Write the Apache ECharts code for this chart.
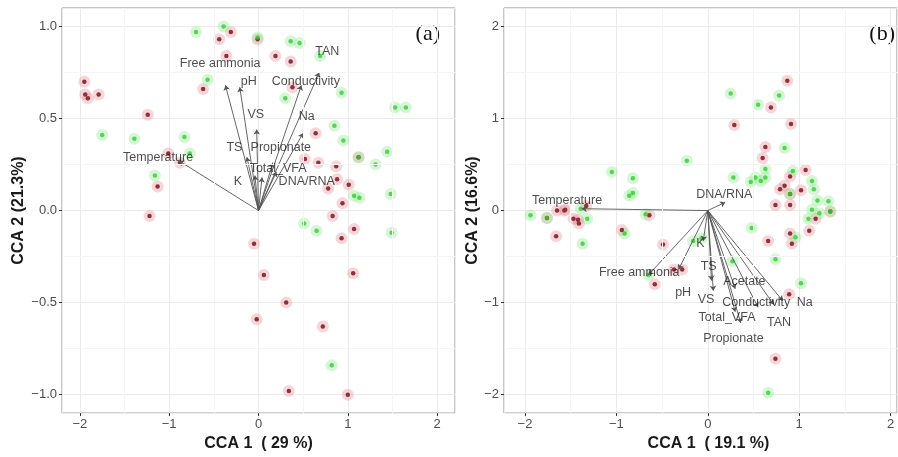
<!DOCTYPE html>
<html lang="en">
<head>
    <meta charset="UTF-8">
    <title>CCA biplots</title>
    <style>
        body { margin: 0; background: #fff; }
        #chart { width: 898px; height: 457px; }
    </style>
</head>
<body>
    <div id="chart"></div>
    <script src="https://cdn.jsdelivr.net/npm/echarts@6/dist/echarts.min.js"></script>
    <script>
        // panel (a) samples
        const aRed = [
            [-0.44, 0.93], [-0.31, 0.97], [-0.01, 0.93], [-0.36, 0.84], [0.19, 0.84], [0.36, 0.81],
            [-1.95, 0.70], [-1.94, 0.63], [-1.91, 0.61], [-1.79, 0.63], [-0.62, 0.66], [0.38, 0.67],
            [-1.24, 0.52], [-1.01, 0.31], [-0.88, 0.26], [-1.13, 0.13], [-1.22, -0.03],
            [0.64, 0.42], [1.12, 0.29], [0.52, 0.28], [0.67, 0.26], [0.87, 0.24], [0.88, 0.17],
            [0.78, 0.12], [1.01, 0.14], [0.94, 0.04], [0.83, -0.03],
            [1.07, -0.10], [0.93, -0.15], [-0.05, -0.18], [0.06, -0.35], [1.06, -0.34],
            [0.31, -0.50], [-0.02, -0.59], [0.72, -0.63], [0.34, -0.98], [1.00, -1.00]
        ];
        const aGreen = [
            [-0.70, 0.97], [-0.39, 1.00], [-0.01, 0.94], [0.36, 0.92], [0.46, 0.91], [0.69, 0.84],
            [-0.57, 0.71], [0.30, 0.61], [0.93, 0.64], [1.53, 0.56], [1.65, 0.56],
            [-1.75, 0.41], [-1.39, 0.39], [-0.83, 0.40], [-0.77, 0.31], [-1.16, 0.19],
            [0.85, 0.46], [0.95, 0.38], [1.44, 0.32], [1.12, 0.29], [1.31, 0.25],
            [1.07, 0.08], [1.13, 0.07], [1.48, 0.09],
            [0.51, -0.07], [0.65, -0.11], [1.49, -0.12], [0.82, -0.84]
        ];
        const aVars = ['Temperature', 'Free ammonia', 'pH', 'VS', 'TS', 'Propionate',
            'Total_VFA', 'K', 'DNA/RNA', 'Na', 'Conductivity', 'TAN'];
        const aTips = [
            [-0.89, 0.27], [-0.37, 0.68], [-0.21, 0.67], [-0.02, 0.44], [-0.13, 0.29], [0.16, 0.26],
            [0.04, 0.18], [-0.04, 0.19], [0.20, 0.21], [0.50, 0.42], [0.48, 0.68], [0.68, 0.75]
        ];
        const aLabelAt = [
            [-1.125, 0.29], [-0.43, 0.80], [-0.11, 0.70], [-0.03, 0.52], [-0.27, 0.34], [0.25, 0.34],
            [0.22, 0.23], [-0.23, 0.155], [0.54, 0.155], [0.54, 0.51], [0.53, 0.70], [0.77, 0.865]
        ];

        // panel (b) samples
        const bRed = [
            [0.87, 1.41], [0.69, 1.12], [0.29, 0.93], [0.91, 0.94], [0.63, 0.69], [0.60, 0.57],
            [1.07, 0.44], [0.90, 0.37], [0.84, 0.27], [0.79, 0.23], [0.90, 0.18], [1.02, 0.22],
            [0.74, 0.06], [0.90, 0.06], [1.18, -0.09], [1.34, -0.01],
            [-1.76, -0.08], [-1.65, 0.00], [-1.57, 0.00], [-1.56, 0.01], [-1.33, 0.05],
            [-1.47, -0.09], [-1.42, -0.10], [-1.41, -0.14], [-0.64, -0.05],
            [-1.66, -0.28], [-0.94, -0.21], [-0.49, -0.37], [-0.37, -0.64], [-0.28, -0.64], [-0.58, -0.80],
            [0.66, -0.33], [0.90, -0.25], [0.92, -0.36], [1.11, -0.22], [0.89, -0.91], [0.74, -1.61]
        ];
        const bGreen = [
            [0.25, 1.27], [0.78, 1.25], [0.55, 1.15], [0.84, 0.68], [-0.23, 0.54], [-1.05, 0.42],
            [-0.82, 0.35], [-0.82, 0.19], [-0.86, 0.16],
            [0.28, 0.36], [0.63, 0.45], [0.63, 0.36], [0.58, 0.32], [0.52, 0.36], [0.47, 0.31],
            [0.93, 0.43], [1.14, 0.32], [1.16, 0.23], [1.20, 0.11], [1.32, 0.10],
            [1.14, 0.01], [1.22, -0.03], [1.10, -0.09], [1.34, -0.01], [0.90, 0.18],
            [-1.94, -0.05], [-1.76, -0.08], [-1.39, 0.02], [-1.32, -0.09], [-0.68, -0.04],
            [-1.37, -0.36], [-0.91, -0.25], [-0.65, -0.70],
            [-0.16, -0.33], [-0.07, -0.30], [0.48, -0.19], [0.27, -0.55], [0.74, -0.53],
            [1.02, -0.79], [0.96, -0.29], [0.66, -1.98]
        ];
        const bVars = ['Temperature', 'DNA/RNA', 'Free ammonia', 'pH', 'K', 'TS', 'VS', 'Acetate',
            'Conductivity', 'Na', 'Total_VFA', 'TAN', 'Propionate'];
        const bTips = [
            [-1.38, 0.02], [0.19, 0.09], [-0.65, -0.70], [-0.32, -0.64], [-0.05, -0.33], [0.04, -0.76],
            [0.06, -0.87], [0.30, -0.85], [0.55, -1.05], [0.82, -0.98], [0.30, -1.10], [0.72, -1.02],
            [0.36, -1.22]
        ];
        const bLabelAt = [
            [-1.54, 0.11], [0.18, 0.17], [-0.75, -0.67], [-0.27, -0.89], [-0.08, -0.36], [0.01, -0.61],
            [-0.02, -0.97], [0.40, -0.77], [0.53, -1.00], [1.06, -1.00], [0.21, -1.16], [0.78, -1.22],
            [0.28, -1.39]
        ];

        const FONT = '"Liberation Sans", Arial, sans-serif';
        const minus = s => String(s).replace('-', '\u2212');

        function xAxis(gi, min, max, name, pad) {
            return {
                type: 'value', gridIndex: gi, min: min, max: max,
                name: name, nameLocation: 'middle', nameGap: 18,
                nameTextStyle: { fontFamily: FONT, fontWeight: 'bold', fontSize: 16, color: '#1a1a1a', padding: pad },
                axisLine: { show: false, onZero: false },
                axisTick: { show: true, length: 3, lineStyle: { color: '#333' } },
                axisLabel: { margin: 5, fontFamily: FONT, fontSize: 13, color: '#4d4d4d',
                    showMinLabel: false, showMaxLabel: false, formatter: v => minus(v) },
                splitLine: { lineStyle: { color: '#ebebeb', width: 1 } }
            };
        }
        function yAxis(gi, min, max, name, gap, digits) {
            return {
                type: 'value', gridIndex: gi, min: min, max: max,
                name: name, nameLocation: 'middle', nameGap: gap,
                nameTextStyle: { fontFamily: FONT, fontWeight: 'bold', fontSize: 16, color: '#1a1a1a' },
                axisLine: { show: false, onZero: false },
                axisTick: { show: true, length: 3, lineStyle: { color: '#333' } },
                axisLabel: { margin: 5, fontFamily: FONT, fontSize: 13, color: '#4d4d4d',
                    showMinLabel: false, showMaxLabel: false, formatter: v => minus(v.toFixed(digits)) },
                splitLine: { lineStyle: { color: '#ebebeb', width: 1 } }
            };
        }

        function minorGrid(gi, xs, ys) {
            return {
                type: 'scatter', xAxisIndex: gi, yAxisIndex: gi, data: [], z: 1, silent: true,
                markLine: {
                    silent: true, symbol: 'none', label: { show: false },
                    lineStyle: { color: '#f5f5f5', type: 'solid', width: 1 },
                    data: xs.map(v => ({ xAxis: v })).concat(ys.map(v => ({ yAxis: v })))
                }
            };
        }

        function panelSeries(gi, red, green, vars, tips, labelAt) {
            const halo = (data, color) => ({
                type: 'scatter', xAxisIndex: gi, yAxisIndex: gi, data: data, symbolSize: 12,
                itemStyle: { color: color }, z: 2, silent: true
            });
            const dot = (data, color, op) => ({
                type: 'scatter', xAxisIndex: gi, yAxisIndex: gi, data: data, symbolSize: 4.5,
                itemStyle: { color: color, opacity: op }, z: 3, silent: true
            });
            return [
                halo(red, 'rgba(230,140,148,0.45)'),
                halo(green, 'rgba(140,232,140,0.45)'),
                dot(red, '#922f3c', 1),
                dot(green, '#33cc33', 0.8),
                {
                    type: 'lines', coordinateSystem: 'cartesian2d', xAxisIndex: gi, yAxisIndex: gi, z: 4,
                    symbol: ['none', 'arrow'], symbolSize: 5, silent: true,
                    lineStyle: { color: '#555', width: 0.9, opacity: 1 },
                    data: tips.map(t => ({ coords: [[0, 0], t] }))
                },
                {
                    type: 'scatter', xAxisIndex: gi, yAxisIndex: gi, z: 5, symbolSize: 0, silent: true,
                    data: vars.map((n, i) => ({ name: n, value: labelAt[i] })),
                    label: { show: true, position: 'inside', formatter: '{b}',
                        fontFamily: FONT, fontSize: 12.5, color: '#1e1e1e' }
                }
            ];
        }

        const chart = echarts.init(document.getElementById('chart'));
        chart.setOption({
            animation: false,
            backgroundColor: '#fff',
            grid: [
                { left: 62, top: 8, width: 393, height: 412, show: true, borderColor: '#8f8f8f', borderWidth: 1, backgroundColor: 'transparent' },
                { left: 504, top: 8, width: 393, height: 412, show: true, borderColor: '#8f8f8f', borderWidth: 1, backgroundColor: 'transparent' }
            ],
            xAxis: [
                xAxis(0, -2.2, 2.2, 'CCA 1  ( 29 %)', [0, 0, 0, 0]),
                xAxis(1, -2.23, 2.07, 'CCA 1  ( 19.1 %)', [0, 0, 0, 16])
            ],
            yAxis: [
                yAxis(0, -1.1, 1.1, 'CCA 2 (21.3%)', 35, 1),
                yAxis(1, -2.2, 2.2, 'CCA 2 (16.6%)', 21, 0)
            ],
            graphic: [
                { type: 'text', x: 440, y: 34, style: { text: '(a)', align: 'right', verticalAlign: 'middle',
                    font: '22px "Liberation Serif", "Times New Roman", serif', fill: '#111' } },
                { type: 'text', x: 895, y: 34, style: { text: '(b)', align: 'right', verticalAlign: 'middle',
                    font: '22px "Liberation Serif", "Times New Roman", serif', fill: '#111' } }
            ],
            series: [
                minorGrid(0, [-1.5, -0.5, 0.5, 1.5], [-0.75, -0.25, 0.25, 0.75]),
                minorGrid(1, [-1.5, -0.5, 0.5, 1.5], [-1.5, -0.5, 0.5, 1.5])
            ].concat(
                panelSeries(0, aRed, aGreen, aVars, aTips, aLabelAt),
                panelSeries(1, bRed, bGreen, bVars, bTips, bLabelAt)
            )
        });
    </script>
</body>
</html>
